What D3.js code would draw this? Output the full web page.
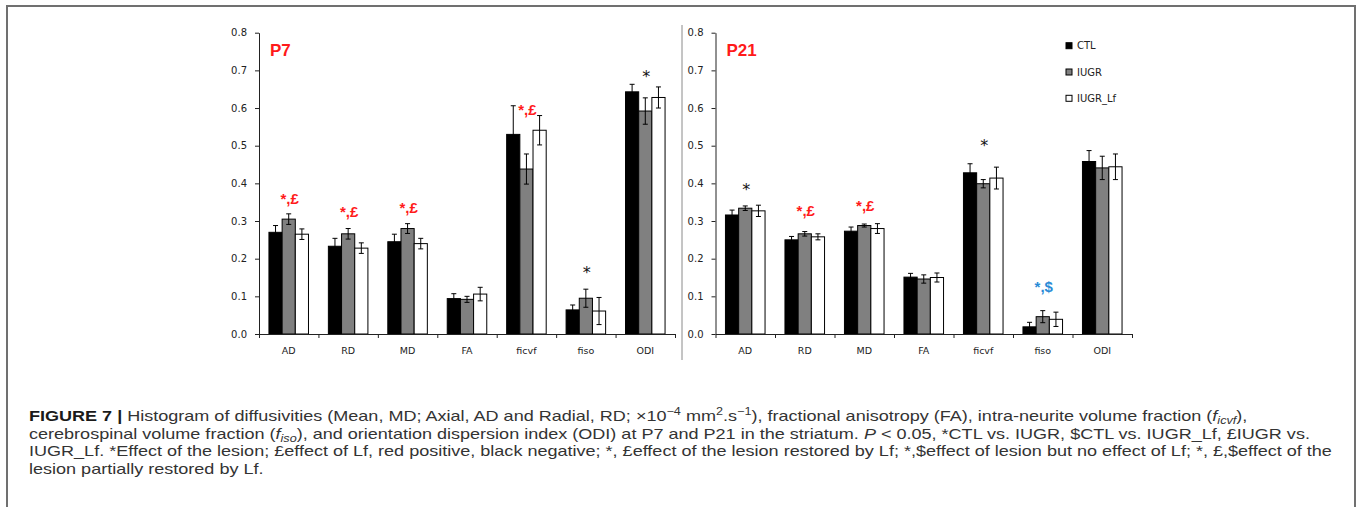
<!DOCTYPE html>
<html>
<head>
<meta charset="utf-8">
<script src="https://cdn.jsdelivr.net/npm/d3@7"></script>
<style>
  html, body { margin: 0; padding: 0; background: #fff; }
  svg { display: block; }
</style>
</head>
<body>
<svg id="chart" width="1360" height="507"></svg>
<script>
// ---------------- DATA ----------------
const categories = ["AD", "RD", "MD", "FA", "ficvf", "fiso", "ODI"];
const seriesNames = ["CTL", "IUGR", "IUGR_Lf"];
const yTicks = [0.0, 0.1, 0.2, 0.3, 0.4, 0.5, 0.6, 0.7, 0.8];

// P7
const p7CTL      = [0.270, 0.233, 0.245, 0.094, 0.530, 0.064, 0.643];
const p7CTLerr   = [0.018, 0.021, 0.020, 0.013, 0.076, 0.013, 0.020];
const p7IUGR     = [0.305, 0.266, 0.280, 0.092, 0.438, 0.095, 0.592];
const p7IUGRerr  = [0.014, 0.014, 0.013, 0.008, 0.040, 0.024, 0.035];
const p7Lf       = [0.265, 0.228, 0.240, 0.106, 0.541, 0.061, 0.628];
const p7Lferr    = [0.014, 0.014, 0.014, 0.018, 0.039, 0.036, 0.028];

// P21
const p21CTL     = [0.316, 0.250, 0.273, 0.151, 0.428, 0.019, 0.458];
const p21CTLerr  = [0.013, 0.009, 0.011, 0.010, 0.024, 0.012, 0.029];
const p21IUGR    = [0.334, 0.266, 0.288, 0.146, 0.399, 0.046, 0.441];
const p21IUGRerr = [0.006, 0.006, 0.004, 0.011, 0.011, 0.016, 0.031];
const p21Lf      = [0.327, 0.258, 0.280, 0.150, 0.414, 0.039, 0.444];
const p21Lferr   = [0.015, 0.008, 0.013, 0.012, 0.029, 0.019, 0.034];

// significance annotations (level = baseline in data units)
const p7AnnotCat    = ["AD", "RD", "MD", "ficvf", "fiso", "ODI"];
const p7AnnotText   = ["*,£", "*,£", "*,£", "*,£", "*", "*"];
const p7AnnotKind   = ["red", "red", "red", "red", "black", "black"];
const p7AnnotLevel  = [0.345, 0.311, 0.322, 0.581, 0.149, 0.668];

const p21AnnotCat   = ["AD", "RD", "MD", "ficvf", "fiso"];
const p21AnnotText  = ["*", "*,£", "*,£", "*", "*,$"];
const p21AnnotKind  = ["black", "red", "red", "black", "blue"];
const p21AnnotLevel = [0.369, 0.313, 0.327, 0.485, 0.111];

const panelTitles = ["P7", "P21"];

// ---------------- DRAW ----------------
const svg = d3.select("#chart");
const colors = { CTL: "#000000", IUGR: "#808080", IUGR_Lf: "#ffffff" };
const annotColor = { red: "#ff1a1a", black: "#111111", blue: "#2a8bd6" };
const axisFont = "'DejaVu Sans', Verdana, sans-serif";

// Frame
svg.append("path")
  .attr("d", "M7,512 L7,6 L1355,6 L1355,512")
  .attr("fill", "none").attr("stroke", "#707070").attr("stroke-width", 2);

// Divider between panels
svg.append("line")
  .attr("x1", 682).attr("x2", 682).attr("y1", 25).attr("y2", 360)
  .attr("stroke", "#8a8a8a").attr("stroke-width", 1);

const y = d3.scaleLinear().domain([0, 0.8]).range([334, 32.7]);

function drawPanel(cfg) {
  const g = svg.append("g");
  const x0 = d3.scaleBand().domain(categories).range([cfg.left, cfg.right]).padding(0);
  const x1 = d3.scaleBand().domain(seriesNames).range([0, x0.bandwidth()])
    .paddingInner(0).paddingOuter(0.755);
  const xIdx = d3.scaleLinear().domain([0, categories.length]).range([cfg.left, cfg.right]);

  const rows = categories.map((c, i) => ({
    cat: c,
    vals: seriesNames.map((s, j) => ({ s, v: cfg.vals[j][i], e: cfg.errs[j][i] }))
  }));

  // bars
  const grp = g.selectAll("g.cat").data(rows).join("g")
    .attr("transform", d => `translate(${x0(d.cat)},0)`);
  grp.selectAll("rect").data(d => d.vals).join("rect")
    .attr("x", d => x1(d.s))
    .attr("width", x1.bandwidth())
    .attr("y", d => y(d.v))
    .attr("height", d => y(0) - y(d.v))
    .attr("fill", d => colors[d.s])
    .attr("stroke", "#000").attr("stroke-width", 1);

  // error bars
  const eb = grp.selectAll("g.err").data(d => d.vals).join("g")
    .attr("transform", d => `translate(${x1(d.s) + x1.bandwidth() / 2},0)`)
    .attr("stroke", "#000")
    .attr("stroke-width", 1);
  eb.append("line").attr("x1", 0).attr("x2", 0)
    .attr("y1", d => y(d.v - d.e)).attr("y2", d => y(d.v + d.e));
  eb.append("line").attr("x1", -2.5).attr("x2", 2.5)
    .attr("y1", d => y(d.v + d.e)).attr("y2", d => y(d.v + d.e));
  eb.append("line").attr("x1", -2.5).attr("x2", 2.5)
    .attr("y1", d => y(d.v - d.e)).attr("y2", d => y(d.v - d.e));

  // y axis
  const ya = g.append("g").attr("transform", `translate(${cfg.left},0)`)
    .call(d3.axisLeft(y).tickValues(yTicks).tickFormat(d3.format(".1f"))
      .tickSize(4).tickSizeOuter(0).tickPadding(8));
  ya.selectAll("text").attr("font-family", axisFont).attr("font-size", 10).attr("fill", "#222");
  ya.selectAll("line,path").attr("stroke", "#222");

  // x axis: boundary ticks
  const xa = g.append("g").attr("transform", `translate(0,${y(0)})`)
    .call(d3.axisBottom(xIdx).tickValues(d3.range(categories.length + 1))
      .tickFormat("").tickSize(4).tickSizeOuter(0));
  xa.selectAll("line,path").attr("stroke", "#222");

  // category labels
  const xl = g.append("g").attr("transform", `translate(0,${y(0)})`)
    .call(d3.axisBottom(x0).tickSize(0).tickPadding(13));
  xl.select("path").remove();
  xl.selectAll("text").attr("font-family", axisFont).attr("font-size", 9.5).attr("fill", "#222");

  // panel title
  g.append("text").attr("x", cfg.left + 11).attr("y", 56)
    .attr("font-family", "'Liberation Sans', Arial, sans-serif")
    .attr("font-weight", "bold").attr("font-size", 17).attr("fill", "#ff1a1a")
    .text(cfg.title);

  // annotations
  cfg.annCat.forEach((c, i) => {
    const kind = cfg.annKind[i];
    const isStar = cfg.annText[i] === "*";
    g.append("text")
      .attr("x", x0(c) + x0.bandwidth() / 2 + 1)
      .attr("y", y(cfg.annLevel[i]))
      .attr("text-anchor", "middle")
      .attr("font-family", isStar ? axisFont : "'Liberation Sans', Arial, sans-serif")
      .attr("font-weight", isStar ? "normal" : "bold")
      .attr("font-size", isStar ? 16 : 15)
      .attr("fill", annotColor[kind])
      .text(cfg.annText[i]);
  });
}

drawPanel({
  left: 259, right: 675, title: panelTitles[0],
  vals: [p7CTL, p7IUGR, p7Lf], errs: [p7CTLerr, p7IUGRerr, p7Lferr],
  annCat: p7AnnotCat, annText: p7AnnotText, annKind: p7AnnotKind, annLevel: p7AnnotLevel
});
drawPanel({
  left: 715.5, right: 1132, title: panelTitles[1],
  vals: [p21CTL, p21IUGR, p21Lf], errs: [p21CTLerr, p21IUGRerr, p21Lferr],
  annCat: p21AnnotCat, annText: p21AnnotText, annKind: p21AnnotKind, annLevel: p21AnnotLevel
});

// legend
const legend = svg.append("g").attr("transform", "translate(1066,0)");
const legendY = d3.scalePoint().domain(seriesNames).range([45.7, 98.3]);
seriesNames.forEach(s => {
  legend.append("rect").attr("x", 0).attr("y", legendY(s) - 3).attr("width", 6).attr("height", 6)
    .attr("fill", colors[s]).attr("stroke", "#000").attr("stroke-width", 1);
  legend.append("text").attr("x", 11).attr("y", legendY(s)).attr("dy", "0.35em")
    .attr("font-family", axisFont).attr("font-size", 10).attr("fill", "#222").text(s);
});

// ---------------- CAPTION ----------------
const captionLines = [
  [["FIGURE 7 |", "b"], [" Histogram of diffusivities (Mean, MD; Axial, AD and Radial, RD; \u00d710", ""],
   ["\u22124", "sup"], [" mm", ""], ["2", "sup"], [".s", ""], ["\u22121", "sup"],
   ["), fractional anisotropy (FA), intra-neurite volume fraction (", ""], ["f", "i"], ["icvf", "isub"], ["),", ""]],
  [["cerebrospinal volume fraction (", ""], ["f", "i"], ["iso", "isub"],
   ["), and orientation dispersion index (ODI) at P7 and P21 in the striatum. ", ""], ["P", "i"],
   [" < 0.05, *CTL vs. IUGR, $CTL vs. IUGR_Lf, \u00a3IUGR vs.", ""]],
  [["IUGR_Lf. *Effect of the lesion; \u00a3effect of Lf, red positive, black negative; *, \u00a3effect of the lesion restored by Lf; *,$effect of lesion but no effect of Lf; *, \u00a3,$effect of the", ""]],
  [["lesion partially restored by Lf.", ""]]
];
const capFont = "'Liberation Sans', Arial, Helvetica, sans-serif";
const capLineY = d3.scaleLinear().domain([0, 1]).range([420.7, 438.5]);
const capNodes = [];
captionLines.forEach((segs, li) => {
  const gl = svg.append("g").attr("transform", `translate(29,${capLineY(li)})`);
  const t = gl.append("text").attr("x", 0).attr("y", 0)
    .attr("font-family", capFont).attr("font-size", 15).attr("fill", "#333");
  let shift = 0;
  segs.forEach(([txt, kind]) => {
    const ts = t.append("tspan").text(txt);
    let target = 0;
    if (kind === "sup") { ts.attr("font-size", 10.5); target = -6; }
    if (kind === "isub") { ts.attr("font-size", 10.5).attr("font-style", "italic"); target = 3.5; }
    if (kind === "i") ts.attr("font-style", "italic");
    if (kind === "b") ts.attr("font-weight", "bold").attr("fill", "#1a1a1a");
    if (target !== shift) { ts.attr("dy", target - shift); shift = target; }
  });
  capNodes.push({ g: gl, t, li });
});
// uniform horizontal scale so that the longest line ends where the reference's does
const w3 = capNodes[2].t.node().getComputedTextLength();
const sx = (1333 - 29) / w3;
capNodes.forEach(n => n.g.attr("transform", `translate(29,${capLineY(n.li)}) scale(${sx},1)`));
</script>
</body>
</html>
